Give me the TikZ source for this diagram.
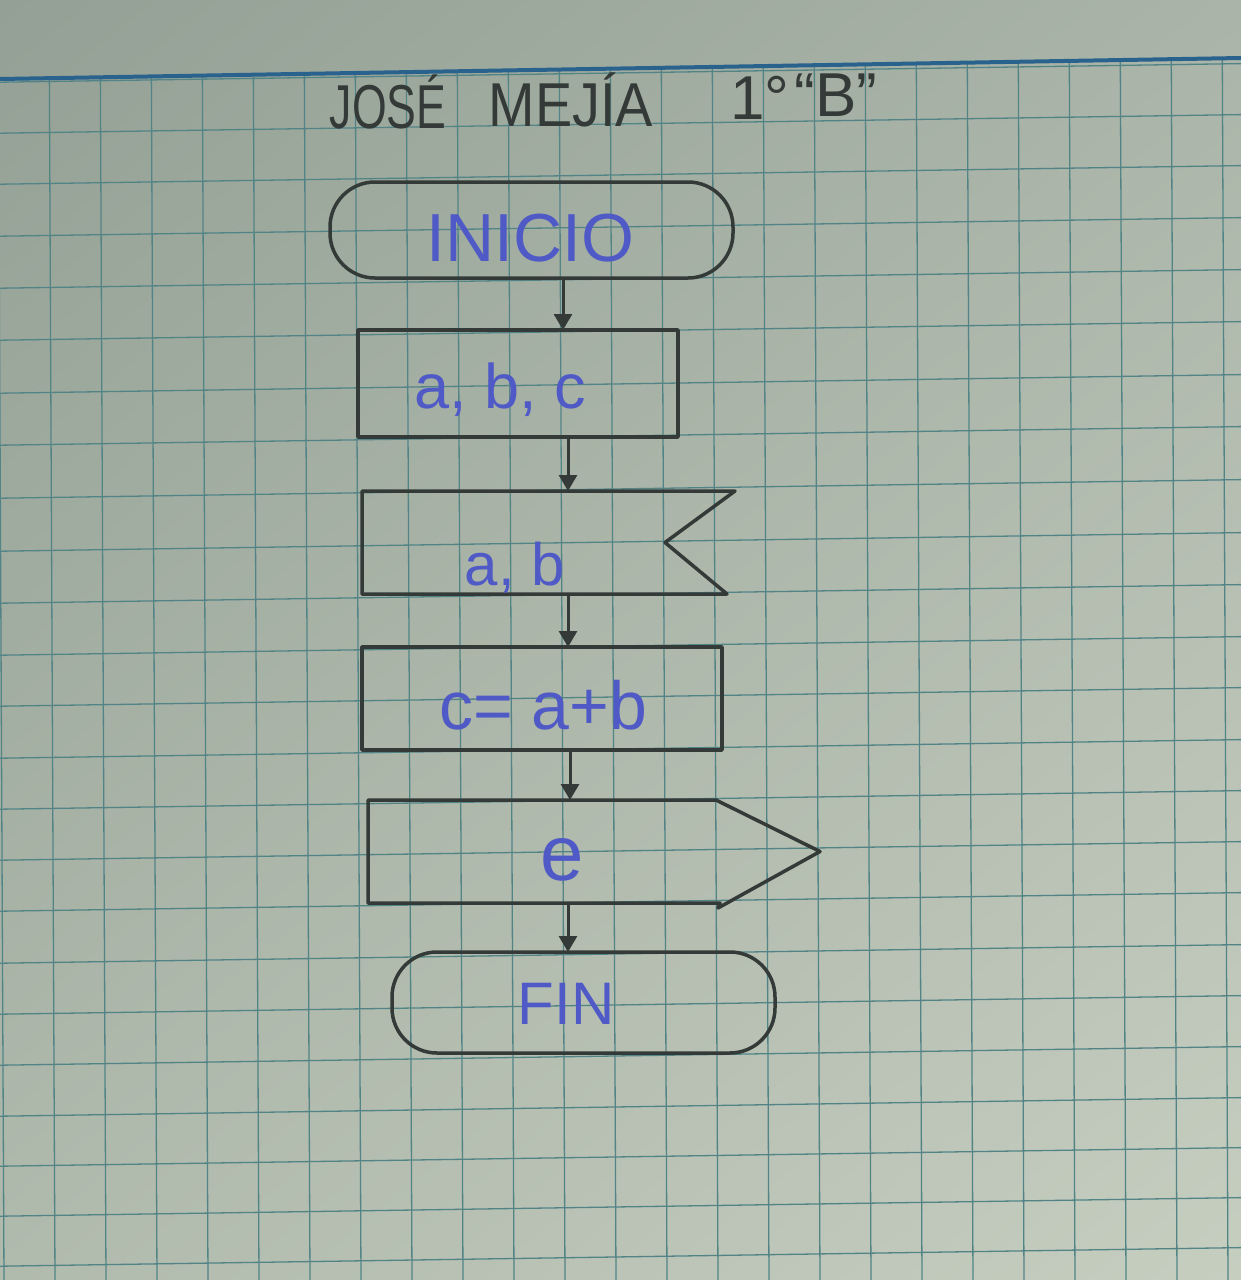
\documentclass[tikz,border=0pt]{standalone}
\usepackage{fontspec}
\setmainfont{Liberation Sans}
\usepackage{graphicx}
\usetikzlibrary{arrows.meta,calc,shadings}
\definecolor{paperUL}{RGB}{148,160,149}
\definecolor{paperUR}{RGB}{170,180,168}
\definecolor{paperLL}{RGB}{176,186,173}
\definecolor{paperLR}{RGB}{198,206,192}
\definecolor{gridc}{RGB}{82,132,134}
\definecolor{pencil}{RGB}{52,58,56}
\definecolor{ink}{RGB}{80,90,198}
\definecolor{marginc}{RGB}{42,98,142}
\begin{document}
\begin{tikzpicture}[x=1pt,y=-1pt,
  outline/.style={draw=pencil, line width=3.5pt, line join=round, line cap=round},
  frame/.style={inner sep=0pt, outer sep=0pt},
  term/.style={frame, outline, rounded corners=45pt},
  plainbox/.style={frame, outline},
  ghost/.style={frame},
  inktext/.style={text=ink, inner sep=0pt},
  titletext/.style={text=pencil, inner sep=0pt, font=\fontsize{62}{66}\selectfont},
  gridline/.style={draw=gridc, line width=1.3pt},
  flow/.style={draw=pencil, line width=3pt, -{Triangle[width=18pt,length=16pt]}}]
% paper
\useasboundingbox (0,0) rectangle (1241,1280);
\shade[upper left=paperUL, upper right=paperUR, lower left=paperLL, lower right=paperLR] (0,0) rectangle (1241,1280);
\begin{scope}
  \clip (0,79) -- (1241,58) -- (1241,1280) -- (0,1280) -- cycle;
  \foreach \i in {0,...,24}
    \draw[gridline] ({-2+51*\i},0) -- ({-2+51*\i+6},1280);
  \foreach \yy in {74,125,176,228,280,332,385,437,490,543,595,647,698,750,801,852,903,955,1006,1057,1108,1158,1208,1258}
    \draw[gridline] (0,{\yy+8.2}) -- (1241,{\yy-10.4});
\end{scope}
\draw[marginc, line width=4pt] (0,79) -- (1241,58);
% title
\node[titletext] (t1) at (388,102) {\scalebox{0.72}[1]{JOSÉ}};
\node[titletext] (t2) at (571,100) {\scalebox{0.9}[1]{MEJÍA}};
\node[titletext] (t3) at (760,98) {1°};
\node[titletext] (t4) at (836,95) {“B”};
% shapes
\node[term, minimum width=403pt, minimum height=96pt] (inicio) at (531.5,230) {};
\node[inktext, font=\fontsize{68}{70}\selectfont] (tinicio) at (530,238) {INICIO};
\node[plainbox, minimum width=320pt, minimum height=107pt] (abc) at (518,383.5) {};
\node[inktext, font=\fontsize{63}{66}\selectfont] (tabc) at (500,390) {a, b, c};
\node[ghost, minimum width=373pt, minimum height=103pt] (b3) at (548.5,542.5) {};
\draw[outline] (b3.north east) -- (b3.north west) -- (b3.south west) -- ([xshift=-8pt]b3.south east) -- ([xshift=-70pt]b3.east) -- cycle;
\node[inktext, font=\fontsize{60}{64}\selectfont] (tb3) at (515,568) {a, b};
\node[plainbox, minimum width=360pt, minimum height=103pt] (b4) at (542,698.5) {};
\node[inktext, font=\fontsize{68}{70}\selectfont] (tb4) at (543,705) {c= a+b};
\node[ghost, minimum width=452pt, minimum height=103pt] (b5) at (594,851.5) {};
\draw[outline] (b5.east) -- ([xshift=-104pt]b5.north east) -- (b5.north west) -- (b5.south west) -- ([xshift=-100pt]b5.south east) -- ([xshift=-102pt,yshift=-5pt]b5.south east) -- cycle;
\node[inktext, font=\fontsize{78}{80}\selectfont] (tb5) at (562,860) {e};
\node[term, minimum width=383pt, minimum height=101pt] (fin) at (583.5,1002.5) {};
\node[inktext, font=\fontsize{60}{64}\selectfont] (tfin) at (566,1004) {FIN};
% connectors
\draw[flow] ([xshift=31.5pt]inicio.south) -- ([xshift=45pt]abc.north);
\draw[flow] ([xshift=50pt]abc.south) -- ([xshift=19.5pt]b3.north);
\draw[flow] ([xshift=19.5pt]b3.south) -- ([xshift=26pt]b4.north);
\draw[flow] ([xshift=28pt]b4.south) -- ([xshift=-24pt]b5.north);
\draw[flow] ([xshift=-26pt]b5.south) -- ([xshift=-15.5pt]fin.north);
\end{tikzpicture}
\end{document}
